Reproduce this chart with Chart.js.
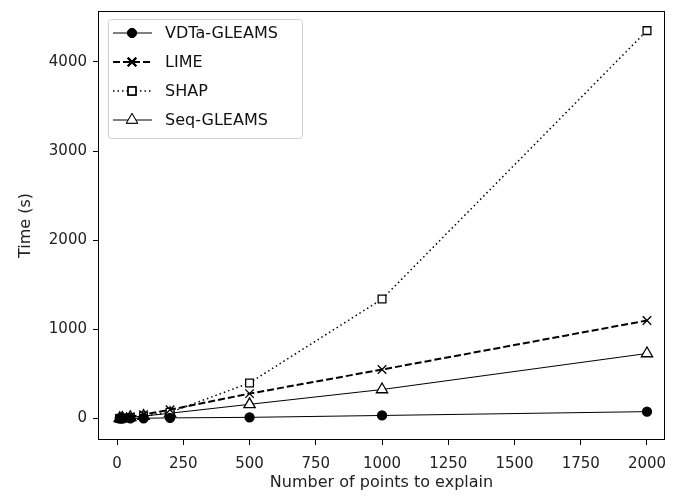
<!DOCTYPE html>
<html>
<head>
<meta charset="utf-8">
<script src="https://cdn.jsdelivr.net/npm/chart.js@4/dist/chart.umd.min.js"></script>
<style>
  html, body { margin: 0; padding: 0; background: #fff; }
  #wrap { width: 682px; height: 496px; }
</style>
</head>
<body>
<div id="wrap"><canvas id="myChart" width="682" height="496"></canvas></div>
<script>
// data
let points = [10, 20, 50, 100, 200, 500, 1000, 2000];
let vdtaTimes = [1, 1, 2, 4, 8, 14, 35, 78];
let limeTimes = [5, 10, 22, 45, 100, 280, 550, 1100];
let shapTimes = [2, 5, 12, 30, 70, 400, 1340, 4350];
let seqTimes = [3, 6, 14, 28, 60, 160, 326, 730];
let seriesNames = ["VDTa-GLEAMS", "LIME", "SHAP", "Seq-GLEAMS"];
let xTicks = [0, 250, 500, 750, 1000, 1250, 1500, 1750, 2000];
let yTicks = [0, 1000, 2000, 3000, 4000];

const font = "'DejaVu Sans', sans-serif";

function toXY(ys) {
  return points.map((x, i) => ({ x: x, y: ys[i] }));
}

// style of each series, also used for the legend
const styles = [
  { width: 1, dash: [], point: "circle", radius: 4.5, fill: "#000" },
  { width: 2, dash: [7, 3], point: "crossRot", radius: 6, fill: "#000" },
  { width: 1.5, dash: [1.5, 3], point: "rect", radius: 5.5, fill: "#fff" },
  { width: 1, dash: [], point: "triangle", radius: 6.5, fill: "#fff" },
];

const allData = [vdtaTimes, limeTimes, shapTimes, seqTimes];

// box around the plot area, like matplotlib spines
const frame = {
  id: "frame",
  afterDraw(chart) {
    const a = chart.chartArea;
    const c = chart.ctx;
    c.save();
    c.strokeStyle = "#000";
    c.lineWidth = 1;
    c.strokeRect(a.left + 0.5, a.top + 0.5, a.right - a.left - 1, a.bottom - a.top - 1);
    c.restore();
  },
};

// legend in the upper left of the plot
const boxLegend = {
  id: "boxLegend",
  afterDraw(chart) {
    const c = chart.ctx;
    const a = chart.chartArea;
    const x0 = a.left + 10, y0 = a.top + 8;
    const w = 194, h = 119;
    c.save();
    c.beginPath();
    c.roundRect(x0 + 0.5, y0 + 0.5, w, h, 3);
    c.fillStyle = "rgba(255,255,255,0.8)";
    c.fill();
    c.strokeStyle = "#d0d0d0";
    c.lineWidth = 1;
    c.stroke();
    c.font = "16px " + font;
    c.textBaseline = "middle";
    seriesNames.forEach((name, i) => {
      const s = styles[i];
      const y = y0 + 14 + i * 29;
      c.beginPath();
      c.setLineDash(s.dash);
      c.lineWidth = s.width;
      c.strokeStyle = "#000";
      c.moveTo(x0 + 5, y);
      c.lineTo(x0 + 44, y);
      c.stroke();
      c.setLineDash([]);
      Chart.helpers.drawPoint(c, {
        pointStyle: s.point,
        radius: s.radius,
        borderWidth: 1.3,
      }, x0 + 24, y);
      c.fillStyle = s.fill;
      c.strokeStyle = "#000";
      c.fill();
      c.stroke();
      c.fillStyle = "#111";
      c.fillText(name, x0 + 57, y + 1);
    });
    c.restore();
  },
};

const ctx = document.getElementById("myChart").getContext("2d");
const myChart = new Chart(ctx, {
  type: "line",
  data: {
    datasets: seriesNames.map((name, i) => ({
      label: name,
      data: toXY(allData[i]),
      borderColor: "#000",
      borderWidth: styles[i].width,
      borderDash: styles[i].dash,
      pointStyle: styles[i].point,
      pointRadius: styles[i].radius,
      pointBackgroundColor: styles[i].fill,
      pointBorderColor: "#000",
      pointBorderWidth: 1.3,
      tension: 0,
      fill: false,
    })),
  },
  options: {
    responsive: false,
    animation: false,
    layout: { padding: { top: 11, right: 17, left: 0, bottom: 0 } },
    plugins: {
      legend: { display: false },
      tooltip: { enabled: false },
    },
    scales: {
      x: {
        type: "linear",
        min: -72,
        max: 2068,
        afterBuildTicks(axis) {
          axis.ticks = xTicks.map((v) => ({ value: v }));
        },
        afterFit(axis) {
          axis.height = 56;
          axis.paddingLeft = 0;
          axis.paddingRight = 0;
        },
        grid: { drawOnChartArea: false, drawTicks: true, tickLength: 5, color: "#000" },
        border: { display: false },
        ticks: {
          color: "#222",
          font: { family: font, size: 15 },
          padding: 10,
          maxRotation: 0,
          callback: (v) => String(v),
        },
        title: {
          display: true,
          text: "Number of points to explain",
          color: "#222",
          font: { family: font, size: 16 },
          padding: { top: 0, bottom: 4 },
        },
      },
      y: {
        type: "linear",
        min: -240,
        max: 4570,
        afterBuildTicks(axis) {
          axis.ticks = yTicks.map((v) => ({ value: v }));
        },
        afterFit(axis) {
          axis.width = 98;
          axis.paddingTop = 0;
          axis.paddingBottom = 0;
        },
        grid: { drawOnChartArea: false, drawTicks: true, tickLength: 5, color: "#000" },
        border: { display: false },
        ticks: {
          color: "#222",
          font: { family: font, size: 15 },
          padding: 6,
          callback: (v) => String(v),
        },
        title: {
          display: true,
          text: "Time (s)",
          color: "#222",
          font: { family: font, size: 16 },
          padding: { top: 16, bottom: 0 },
        },
      },
    },
  },
  plugins: [frame, boxLegend],
});
</script>
</body>
</html>
